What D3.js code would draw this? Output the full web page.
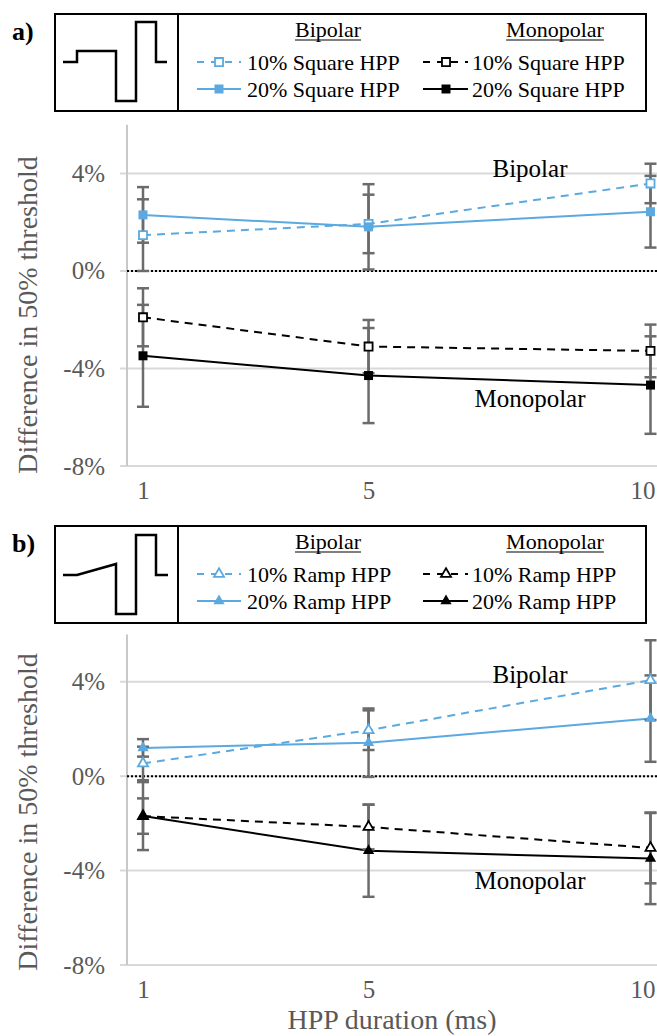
<!DOCTYPE html>
<html>
<head>
<meta charset="utf-8">
<script src="https://cdn.jsdelivr.net/npm/d3@7"></script>
<style>
  body { margin: 0; background: #fff; }
</style>
</head>
<body>
<svg id="chart" width="657" height="1036"></svg>
<script>
// x categories (HPP duration, ms) and y ticks (%)
const durations = [1, 5, 10]
const yTicks = [-8, -4, 0, 4]

// a) square HPP: mean difference and error (%)
const sqBip10 = [1.47, 1.93, 3.59]
const sqBip10Err = [1.47, 1.20, 0.81]
const sqBip20 = [2.30, 1.81, 2.43]
const sqBip20Err = [1.14, 1.75, 1.47]
const sqMono10 = [-1.90, -3.10, -3.28]
const sqMono10Err = [1.19, 1.09, 1.08]
const sqMono20 = [-3.48, -4.29, -4.68]
const sqMono20Err = [2.09, 1.95, 2.00]

// b) ramp HPP
const rpBip10 = [0.54, 1.95, 4.07]
const rpBip10Err = [0.71, 0.84, 1.69]
const rpBip20 = [1.20, 1.42, 2.44]
const rpBip20Err = [0.37, 1.45, 1.83]
const rpMono10 = [-1.69, -2.15, -3.04]
const rpMono10Err = [0.75, 0.95, 1.50]
const rpMono20 = [-1.69, -3.16, -3.49]
const rpMono20Err = [1.44, 1.95, 1.93]

const BLUE = '#5ba9df'
const GRAY_TXT = '#595959'
const ERR = '#6b6b6b'
const FONT = "'Liberation Serif', 'Times New Roman', Tinos, 'DejaVu Serif', serif"

const svg = d3.select('#chart').style('font-family', FONT)

const x = d3.scaleLinear().domain([1, 10]).range([143, 650.5])
const axisX = 127, rightX = 657

const panels = [
    {
        label: 'a)', boxTop: 14, top: 124.7, bottom: 466, titleY: 315, wave: 'square', shape: d3.symbolSquare, size: 81,
        bipAt: 3.85, monoAt: -5.6,
        series: [
            { name: '10% Square HPP', v: sqBip10, e: sqBip10Err, color: BLUE, dashed: true, filled: false },
            { name: '20% Square HPP', v: sqBip20, e: sqBip20Err, color: BLUE, dashed: false, filled: true },
            { name: '10% Square HPP', v: sqMono10, e: sqMono10Err, color: '#000', dashed: true, filled: false },
            { name: '20% Square HPP', v: sqMono20, e: sqMono20Err, color: '#000', dashed: false, filled: true }
        ]
    },
    {
        label: 'b)', boxTop: 526, top: 634.6, bottom: 965, titleY: 812, wave: 'ramp', shape: d3.symbolTriangle, size: 55,
        bipAt: 3.95, monoAt: -4.8,
        series: [
            { name: '10% Ramp HPP', v: rpBip10, e: rpBip10Err, color: BLUE, dashed: true, filled: false },
            { name: '20% Ramp HPP', v: rpBip20, e: rpBip20Err, color: BLUE, dashed: false, filled: true },
            { name: '10% Ramp HPP', v: rpMono10, e: rpMono10Err, color: '#000', dashed: true, filled: false },
            { name: '20% Ramp HPP', v: rpMono20, e: rpMono20Err, color: '#000', dashed: false, filled: true }
        ]
    }
]

function txt(g, s, size) {
    return g.append('text').text(s).style('font-family', FONT).attr('font-size', size)
}

function drawMarker(g, p, s, cx, cy) {
    g.append('path')
        .attr('d', d3.symbol().type(p.shape).size(s.filled ? p.size : p.size * 0.8)())
        .attr('transform', `translate(${cx},${cy})`)
        .attr('fill', s.filled ? s.color : '#fff')
        .attr('stroke', s.color)
        .attr('stroke-width', s.filled ? 0 : 1.8)
}

function drawLegend(p) {
    const top = p.boxTop, h = 97
    const g = svg.append('g')
    txt(g, p.label, 26).attr('x', 12).attr('y', top + 26).attr('font-weight', 'bold')
    g.append('rect')
        .attr('x', 55).attr('y', top).attr('width', 591).attr('height', h)
        .attr('fill', 'none').attr('stroke', '#000').attr('stroke-width', 2)
    g.append('line')
        .attr('x1', 178).attr('x2', 178).attr('y1', top).attr('y2', top + h)
        .attr('stroke', '#000').attr('stroke-width', 2)

    // waveform icon (drawn shape, not data)
    const wavePts = p.wave === 'square'
        ? [[63, 48], [77, 48], [77, 37], [116, 37], [116, 87], [136, 87], [136, 8], [156, 8], [156, 48], [167, 48]]
        : [[63, 49], [77, 49], [116, 38], [116, 88], [136, 88], [136, 9], [156, 9], [156, 49], [168, 49]]
    g.append('path')
        .attr('d', d3.line()(wavePts.map(d => [d[0], d[1] + top])))
        .attr('fill', 'none').attr('stroke', '#000').attr('stroke-width', 2.5)

    const cols = [{ head: 'Bipolar', cx: 328, x0: 197, x1: 241, mx: 219, tx: 247 },
                  { head: 'Monopolar', cx: 555, x0: 423, x1: 468, mx: 446, tx: 472 }]
    cols.forEach((c, ci) => {
        const t = txt(g, c.head, 22).attr('x', c.cx).attr('y', top + 23).attr('text-anchor', 'middle')
        const w = t.node().getComputedTextLength()
        g.append('line')
            .attr('x1', c.cx - w / 2).attr('x2', c.cx + w / 2)
            .attr('y1', top + 26).attr('y2', top + 26)
            .attr('stroke', '#000').attr('stroke-width', 1.2)
        for (let r = 0; r < 2; r++) {
            const s = p.series[ci * 2 + r]
            const yy = top + 48 + r * 27
            g.append('line')
                .attr('x1', c.x0).attr('x2', c.x1).attr('y1', yy).attr('y2', yy)
                .attr('stroke', s.color).attr('stroke-width', 2)
                .attr('stroke-dasharray', s.dashed ? '7,7' : null)
            drawMarker(g, p, s, c.mx, yy)
            txt(g, s.name, 22).attr('x', c.tx).attr('y', yy + 7.5)
        }
    })
}

function drawPlot(p) {
    const y = d3.scaleLinear().domain([-8, 6]).range([p.bottom, p.top])
    const g = svg.append('g')

    // gridlines
    g.selectAll('.grid').data(yTicks).enter().append('line')
        .attr('x1', axisX - 7).attr('x2', rightX)
        .attr('y1', d => y(d)).attr('y2', d => y(d))
        .attr('stroke', '#d9d9d9').attr('stroke-width', 2)
    g.append('line')
        .attr('x1', axisX).attr('x2', axisX).attr('y1', y(6)).attr('y2', y(-8))
        .attr('stroke', '#c8c8c8').attr('stroke-width', 2)

    const ya = g.append('g').attr('transform', `translate(${axisX},0)`)
        .call(d3.axisLeft(y).tickValues(yTicks).tickSize(0).tickPadding(22).tickFormat(d => d + '%'))
    ya.attr('font-family', null)
    ya.select('.domain').remove()
    ya.selectAll('text').style('font-family', FONT).attr('font-size', 25).attr('fill', GRAY_TXT)

    const xa = g.append('g').attr('transform', `translate(0,${y(-8)})`)
        .call(d3.axisBottom(x).tickValues(durations).tickSize(0).tickPadding(15).tickFormat(d3.format('d')))
    xa.attr('font-family', null)
    xa.select('.domain').remove()
    xa.selectAll('text').style('font-family', FONT).attr('font-size', 25).attr('fill', GRAY_TXT)
    // last label kept inside the frame, like the original
    xa.selectAll('text').filter(d => d === d3.max(durations))
        .attr('text-anchor', 'end').attr('dx', rightX - 2 - x(d3.max(durations)))

    // zero reference line
    g.append('line')
        .attr('x1', axisX).attr('x2', rightX).attr('y1', y(0)).attr('y2', y(0))
        .attr('stroke', '#000').attr('stroke-width', 2).attr('stroke-dasharray', '2,2')

    txt(g, 'Difference in 50% threshold', 28)
        .attr('transform', `translate(37,${p.titleY}) rotate(-90)`)
        .attr('text-anchor', 'middle').attr('fill', GRAY_TXT)

    // series lines
    const line = d3.line().x(d => x(d[0])).y(d => y(d[1]))
    p.series.forEach(s => {
        g.append('path')
            .attr('d', line(durations.map((t, i) => [t, s.v[i]])))
            .attr('fill', 'none').attr('stroke', s.color).attr('stroke-width', 2)
            .attr('stroke-dasharray', s.dashed ? '8,6' : null)
    })
    // error bars
    p.series.forEach(s => {
        durations.forEach((t, i) => {
            const cx = x(t), y0 = y(s.v[i] - s.e[i]), y1 = y(s.v[i] + s.e[i])
            g.append('line').attr('x1', cx).attr('x2', cx).attr('y1', y0).attr('y2', y1)
                .attr('stroke', ERR).attr('stroke-width', 2.5)
            ;[y0, y1].forEach(yy => g.append('line')
                .attr('x1', cx - 6).attr('x2', cx + 6).attr('y1', yy).attr('y2', yy)
                .attr('stroke', ERR).attr('stroke-width', 2.5))
        })
    })
    // markers
    p.series.forEach(s => {
        durations.forEach((t, i) => drawMarker(g, p, s, x(t), y(s.v[i])))
    })

    txt(g, 'Bipolar', 25).attr('x', 530).attr('y', y(p.bipAt)).attr('text-anchor', 'middle')
    txt(g, 'Monopolar', 25).attr('x', 530).attr('y', y(p.monoAt)).attr('text-anchor', 'middle')
}

panels.forEach(p => { drawLegend(p); drawPlot(p) })

txt(svg, 'HPP duration (ms)', 28)
    .attr('x', 392).attr('y', 1029)
    .attr('text-anchor', 'middle').attr('fill', GRAY_TXT)
</script>
</body>
</html>
